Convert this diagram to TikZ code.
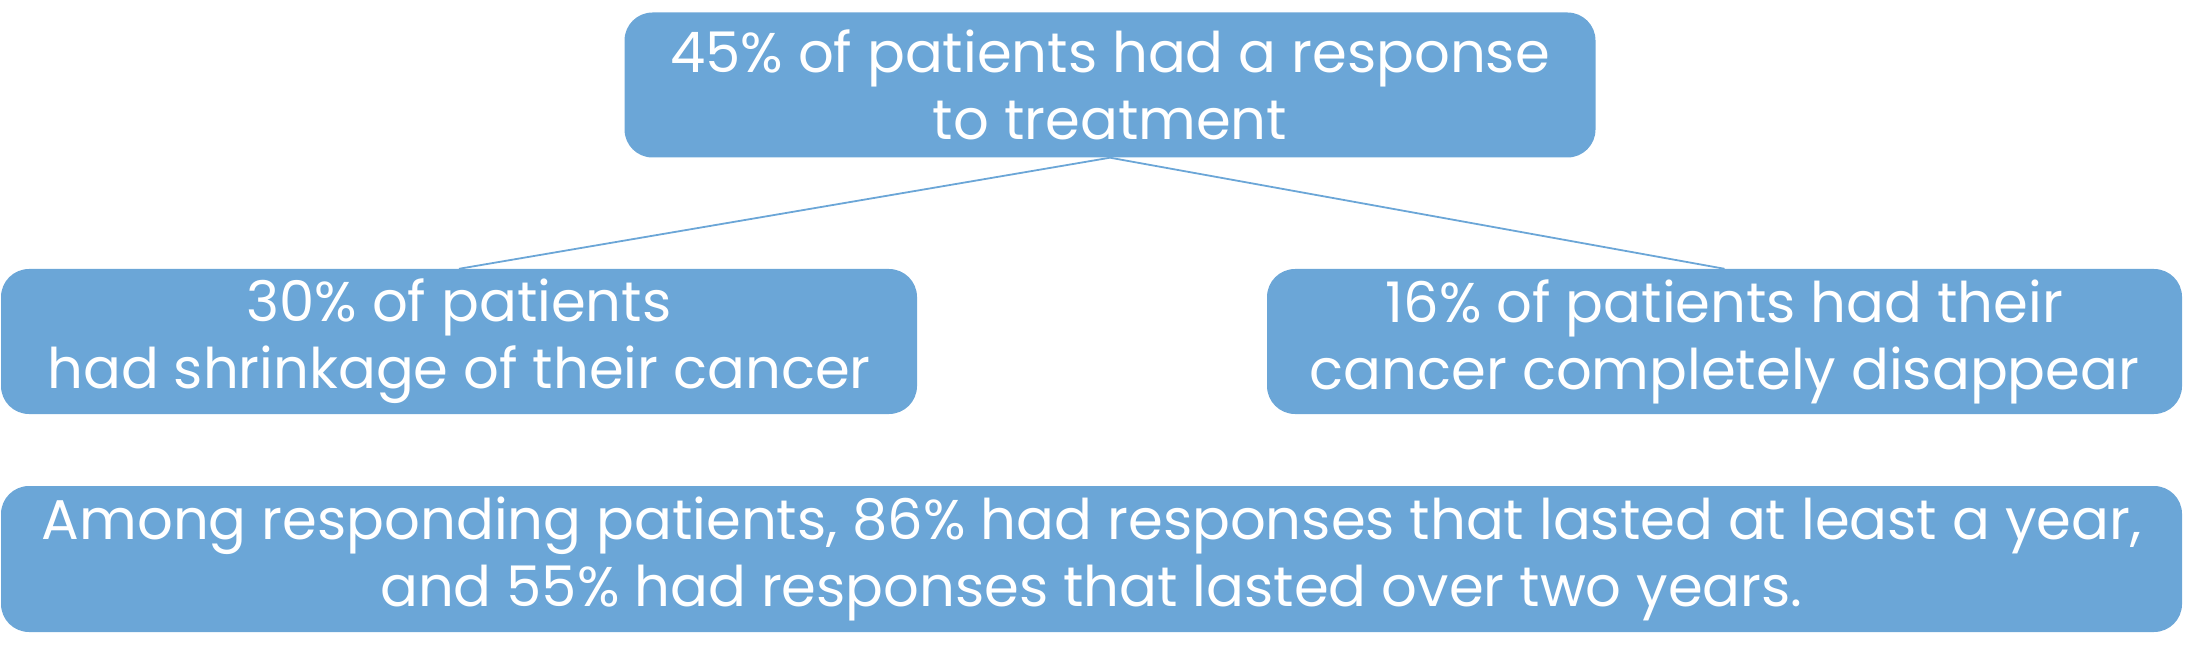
\documentclass[tikz,border=0pt]{standalone}
\usepackage{fontspec}
\setmainfont{Poppins}
\definecolor{boxblue}{HTML}{6BA6D7}
\begin{document}
\begin{tikzpicture}[x=1pt,y=-1pt,
  box/.style={draw=none, fill=boxblue, rounded corners=28pt, text=white,
    align=center, inner sep=0pt, font=\fontsize{56}{67}\selectfont},
  link/.style={draw=boxblue, line width=1.8pt}]
\useasboundingbox (0,0) rectangle (2186,660);
\node[box, minimum width=971pt, minimum height=145pt] (top) at (1110,85)
  {45\% of patients had a response\\to treatment};
\node[box, minimum width=916pt, minimum height=145pt] (left) at (459,341.5)
  {30\% of patients\\had shrinkage of their cancer};
\node[box, minimum width=915pt, minimum height=145pt] (right) at (1724.5,341.5)
  {16\% of patients had their\\cancer completely disappear};
\node[box, minimum width=2181pt, minimum height=146pt] (bottom) at (1091.5,559)
  {Among responding patients, 86\% had responses that lasted at least a year,\\and 55\% had responses that lasted over two years.};
\draw[link] (top.south) -- (left.north);
\draw[link] (top.south) -- (right.north);
\end{tikzpicture}
\end{document}
